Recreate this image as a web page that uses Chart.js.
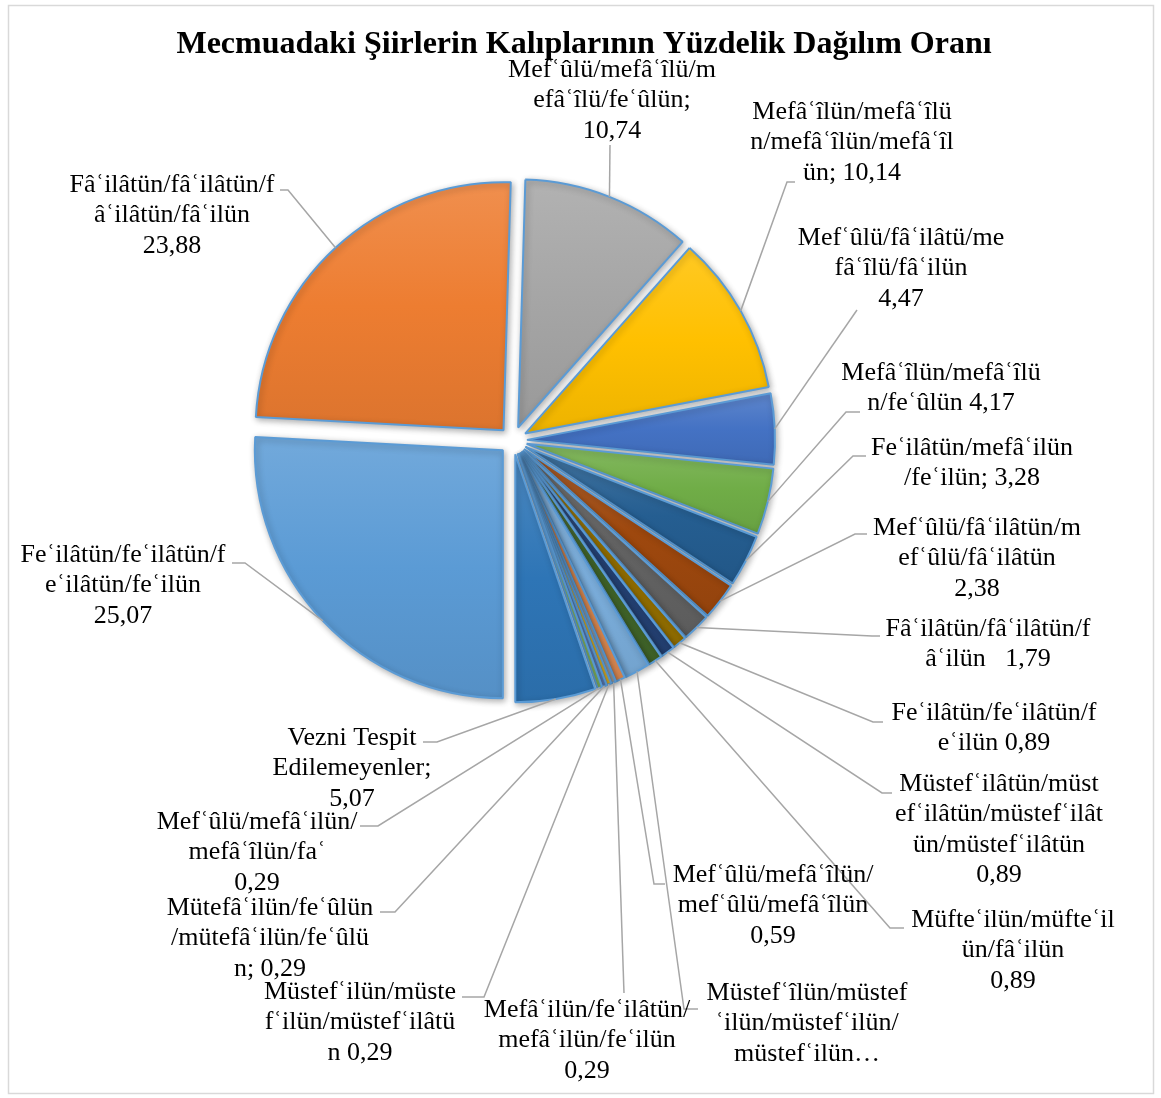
<!DOCTYPE html>
<html lang="tr">
<head>
    <meta charset="UTF-8">
    <title>Mecmuadaki Şiirlerin Kalıplarının Yüzdelik Dağılım Oranı</title>
    <style>
        body {
            margin: 0;
            background: #fff;
        }
        .wrap {
            width: 1161px;
            height: 1098px;
        }
    </style>
</head>
<body>
    <div class="wrap"><canvas id="pie"></canvas></div>

    <script src="https://cdn.jsdelivr.net/npm/chart.js"></script>
    <script>
        // kalıplar, pastadaki sırayla (ilk dilim saat 6 yönünden başlıyor)
        const categories = [
            'Feʿilâtün/feʿilâtün/feʿilâtün/feʿilün',
            'Fâʿilâtün/fâʿilâtün/fâʿilâtün/fâʿilün',
            'Mefʿûlü/mefâʿîlü/mefâʿîlü/feʿûlün',
            'Mefâʿîlün/mefâʿîlün/mefâʿîlün/mefâʿîlün',
            'Mefʿûlü/fâʿilâtü/mefâʿîlü/fâʿilün',
            'Mefâʿîlün/mefâʿîlün/feʿûlün',
            'Feʿilâtün/mefâʿilün/feʿilün',
            'Mefʿûlü/fâʿilâtün/mefʿûlü/fâʿilâtün',
            'Fâʿilâtün/fâʿilâtün/fâʿilün',
            'Feʿilâtün/feʿilâtün/feʿilün',
            'Müstefʿilâtün/müstefʿilâtün/müstefʿilâtün/müstefʿilâtün',
            'Müfteʿilün/müfteʿilün/fâʿilün',
            'Müstefʿîlün/müstefʿilün/müstefʿilün/müstefʿilün',
            'Mefʿûlü/mefâʿîlün/mefʿûlü/mefâʿîlün',
            'Mefâʿilün/feʿilâtün/mefâʿilün/feʿilün',
            'Müstefʿilün/müstefʿilün/müstefʿilâtün',
            'Mütefâʿilün/feʿûlün/mütefâʿilün/feʿûlün',
            'Mefʿûlü/mefâʿilün/mefâʿîlün/faʿ',
            'Vezni Tespit Edilemeyenler'
        ];

        // yüzdeler (13. dilimin etiketi kesik, değeri dilim açısından tahmin)
        const values = [25.07, 23.88, 10.74, 10.14, 4.47, 4.17, 3.28, 2.38, 1.79,
                        0.89, 0.89, 0.89, 1.59, 0.59, 0.29, 0.29, 0.29, 0.29, 5.07];

        // etiket satırları, {v} yerine değer yazılır
        const labelLines = [
            ['Feʿilâtün/feʿilâtün/f', 'eʿilâtün/feʿilün', '{v}'],
            ['Fâʿilâtün/fâʿilâtün/f', 'âʿilâtün/fâʿilün', '{v}'],
            ['Mefʿûlü/mefâʿîlü/m', 'efâʿîlü/feʿûlün;', '{v}'],
            ['Mefâʿîlün/mefâʿîlü', 'n/mefâʿîlün/mefâʿîl', 'ün; {v}'],
            ['Mefʿûlü/fâʿilâtü/me', 'fâʿîlü/fâʿilün', '{v}'],
            ['Mefâʿîlün/mefâʿîlü', 'n/feʿûlün {v}'],
            ['Feʿilâtün/mefâʿilün', '/feʿilün; {v}'],
            ['Mefʿûlü/fâʿilâtün/m', 'efʿûlü/fâʿilâtün', '{v}'],
            ['Fâʿilâtün/fâʿilâtün/f', 'âʿilün   {v}'],
            ['Feʿilâtün/feʿilâtün/f', 'eʿilün {v}'],
            ['Müstefʿilâtün/müst', 'efʿilâtün/müstefʿilât', 'ün/müstefʿilâtün', '{v}'],
            ['Müfteʿilün/müfteʿil', 'ün/fâʿilün', '{v}'],
            ['Müstefʿîlün/müstef', 'ʿilün/müstefʿilün/', 'müstefʿilün…'],
            ['Mefʿûlü/mefâʿîlün/', 'mefʿûlü/mefâʿîlün', '{v}'],
            ['Mefâʿilün/feʿilâtün/', 'mefâʿilün/feʿilün', '{v}'],
            ['Müstefʿilün/müste', 'fʿilün/müstefʿilâtü', 'n {v}'],
            ['Mütefâʿilün/feʿûlün', '/mütefâʿilün/feʿûlü', 'n; {v}'],
            ['Mefʿûlü/mefâʿilün/', 'mefâʿîlün/faʿ', '{v}'],
            ['Vezni Tespit', 'Edilemeyenler;', '{v}']
        ];

        const colors = ['#5B9BD5', '#ED7D31', '#A5A5A5', '#FFC000', '#4472C4', '#70AD47',
                        '#255E91', '#9E480E', '#636363', '#997300', '#264478', '#43682B',
                        '#7CAFDD', '#F1975A', '#B7B7B7', '#FFCD33', '#698ED0', '#8CC168',
                        '#2E75B6'];

        // etiket yerleşimi: [orta x, ilk satır y, kırılma x, kırılma y, çizgi ucu x]
        const labelPos = [
            [123, 555, 245, 563, 232],
            [172, 185, 288, 190, 280],
            [612, 70, 610, 145, 610],
            [852, 112, 787, 182, 795],
            [901, 238, 857, 310, 857],
            [941, 373, 846, 412, 860],
            [972, 448, 853, 456, 866],
            [977, 528, 855, 534, 867],
            [988, 629, 872, 636, 880],
            [994, 713, 873, 722, 883],
            [999, 784, 882, 793, 892],
            [1013, 920, 890, 928, 904],
            [807, 993, 684, 1009, 698],
            [773, 875, 654, 884, 665],
            [587, 1010, 624, 993, 624],
            [360, 992, 484, 997, 462],
            [270, 908, 395, 912, 380],
            [257, 822, 378, 826, 360],
            [352, 738, 437, 742, 423]
        ];

        const EXPLODE = 14;
        const LINE_H = 30.5;
        const serif = '"Liberation Serif", "Times New Roman", "DejaVu Serif", serif';

        function fmt(v) {
            return v.toFixed(2).replace('.', ',');
        }

        function shade(hex, t) {
            const n = parseInt(hex.slice(1), 16);
            const f = c => Math.round(t > 0 ? c + (255 - c) * t : c * (1 + t));
            return `rgb(${f(n >> 16)},${f((n >> 8) & 255)},${f(n & 255)})`;
        }

        function sectorYRange(x, y, r, a0, a1) {
            const ys = [y, y + r * Math.sin(a0), y + r * Math.sin(a1)];
            [Math.PI / 2, -Math.PI / 2].forEach(t => {
                let k = t;
                while (k < a0) k += 2 * Math.PI;
                if (k <= a1) ys.push(y + r * Math.sin(k));
            });
            return [Math.min(...ys), Math.max(...ys)];
        }

        // her dilimi orta açısı yönünde kaydır, dikey degrade ve gölge ile çiz
        const explodePlugin = {
            id: 'explode',
            afterUpdate(chart) {
                chart.getDatasetMeta(0).data.forEach((arc, i) => {
                    if (arc._wrapped) return;
                    const base = arc.draw;
                    arc.draw = function (ctx) {
                        const h = (this.startAngle + this.endAngle) / 2;
                        const [y0, y1] = sectorYRange(this.x, this.y, this.outerRadius, this.startAngle, this.endAngle);
                        const g = ctx.createLinearGradient(0, y0, 0, y1);
                        g.addColorStop(0, shade(colors[i], 0.14));
                        g.addColorStop(0.5, colors[i]);
                        g.addColorStop(1, shade(colors[i], -0.07));
                        const o = this.options;
                        this.options = Object.assign({}, o, { backgroundColor: g });
                        ctx.save();
                        ctx.translate(Math.cos(h) * EXPLODE, Math.sin(h) * EXPLODE);
                        ctx.shadowColor = 'rgba(0,0,0,0.3)';
                        ctx.shadowBlur = 6;
                        ctx.shadowOffsetX = 1.5;
                        ctx.shadowOffsetY = 2;
                        base.call(this, ctx);
                        ctx.restore();
                        this.options = o;
                    };
                    arc._wrapped = true;
                });
            }
        };

        // başlık, çerçeve, etiketler ve kılavuz çizgileri
        const labelPlugin = {
            id: 'leaderLabels',
            beforeDraw(chart) {
                const ctx = chart.ctx;
                ctx.save();
                ctx.fillStyle = '#fff';
                ctx.fillRect(0, 0, chart.width, chart.height);
                ctx.strokeStyle = '#D9D9D9';
                ctx.lineWidth = 1.5;
                ctx.strokeRect(8.5, 5.5, 1145, 1088);
                ctx.restore();
            },
            afterDatasetsDraw(chart) {
                const ctx = chart.ctx;
                const arcs = chart.getDatasetMeta(0).data;
                ctx.save();
                ctx.font = '26px ' + serif;
                ctx.textAlign = 'center';
                ctx.textBaseline = 'middle';
                arcs.forEach((arc, i) => {
                    const mid = (arc.startAngle + arc.endAngle) / 2;
                    const r = arc.outerRadius + EXPLODE;
                    const sx = arc.x + Math.cos(mid) * r;
                    const sy = arc.y + Math.sin(mid) * r;
                    const [cx, y0, ex, ey, tx] = labelPos[i];
                    ctx.strokeStyle = '#A6A6A6';
                    ctx.lineWidth = 1.5;
                    ctx.beginPath();
                    ctx.moveTo(sx, sy);
                    ctx.lineTo(ex, ey);
                    ctx.lineTo(tx, ey);
                    ctx.stroke();
                    ctx.fillStyle = '#000';
                    labelLines[i].forEach((line, k) => {
                        ctx.fillText(line.replace('{v}', fmt(values[i])), cx, y0 + k * LINE_H);
                    });
                });
                ctx.font = 'bold 32px ' + serif;
                ctx.fillText('Mecmuadaki Şiirlerin Kalıplarının Yüzdelik Dağılım Oranı', 584, 45);
                ctx.restore();
            }
        };

        new Chart(document.getElementById('pie'), {
            type: 'pie',
            data: {
                labels: categories,
                datasets: [{
                    data: values,
                    backgroundColor: colors,
                    borderColor: '#5B9BD5',
                    borderWidth: 2
                }]
            },
            options: {
                responsive: true,
                maintainAspectRatio: false,
                animation: false,
                rotation: 180,
                radius: 248,
                layout: {
                    padding: { left: 253, right: 388, top: 180.5, bottom: 397.5 }
                },
                plugins: {
                    legend: { display: false },
                    tooltip: { enabled: false },
                    title: { display: false }
                }
            },
            plugins: [explodePlugin, labelPlugin]
        });
    </script>
</body>
</html>
